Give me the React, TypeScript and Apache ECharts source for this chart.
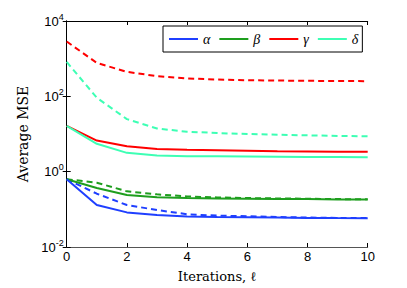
import React, { useEffect, useRef } from "react";
import * as echarts from "echarts";

const iterations = [0, 1, 2, 3, 4, 5, 6, 7, 8, 9, 10];
const legendNames = ["α", "β", "γ", "δ"];
const colors = ["#1f3fff", "#1e9e1e", "#ff0000", "#3dffb4"];

const alphaSolid = [0.63, 0.13, 0.083, 0.071, 0.065, 0.0628, 0.0616, 0.0604, 0.0592, 0.0585, 0.058];
const alphaDashed = [0.63, 0.26, 0.13, 0.096, 0.074, 0.068, 0.0655, 0.0628, 0.0604, 0.0592, 0.059];
const betaSolid = [0.63, 0.37, 0.24, 0.21, 0.2, 0.195, 0.191, 0.187, 0.187, 0.183, 0.183];
const betaDashed = [0.63, 0.51, 0.3, 0.25, 0.22, 0.207, 0.199, 0.195, 0.191, 0.187, 0.185];
const gammaSolid = [16.5, 6.7, 4.7, 4.0, 3.8, 3.7, 3.6, 3.5, 3.45, 3.4, 3.4];
const gammaDashed = [2850, 770, 447, 343, 298, 280, 268, 263, 258, 255, 253];
const deltaSolid = [16.5, 5.5, 3.16, 2.7, 2.58, 2.55, 2.52, 2.49, 2.46, 2.44, 2.43];
const deltaDashed = [818, 92, 24.8, 14, 11.5, 10.6, 10, 9.6, 9.2, 8.9, 8.7];

const solidSets = [alphaSolid, betaSolid, gammaSolid, deltaSolid];
const dashedSets = [alphaDashed, betaDashed, gammaDashed, deltaDashed];

const SERIF = "Liberation Serif";
const WSERIF = "DejaVu Serif";
const SANS = "Liberation Sans";

export default function App() {
  const ref = useRef<HTMLDivElement>(null);
  useEffect(() => {
    if (!ref.current) return;
    const chart = echarts.init(ref.current, null, { renderer: "svg" });
    const series: any[] = [];
    const order = [2, 3, 1, 0];
    order.forEach((i) => {
      series.push({
        name: legendNames[i] + "_d",
        type: "line",
        data: iterations.map((x, k) => [x, dashedSets[i][k]]),
        showSymbol: false,
        symbol: "none",
        lineStyle: { color: colors[i], width: 2, type: [6, 4] },
        itemStyle: { color: colors[i] },
        z: 2,
      });
    });
    order.forEach((i) => {
      series.push({
        name: legendNames[i],
        type: "line",
        data: iterations.map((x, k) => [x, solidSets[i][k]]),
        showSymbol: false,
        symbol: "none",
        lineStyle: { color: colors[i], width: 2 },
        itemStyle: { color: colors[i] },
        z: 3,
      });
    });
    const tickStyle = { show: true, inside: true, length: 4, lineStyle: { color: "#000", width: 1 } };
    chart.setOption({
      animation: false,
      backgroundColor: "#fff",
      textStyle: { fontFamily: SERIF },
      grid: { left: 66.7, right: 39.3, top: 21, bottom: 39, containLabel: false },
      legend: {
        data: legendNames,
        left: 163,
        top: 26,
        icon: "rect",
        itemWidth: 29,
        itemHeight: 2,
        itemGap: 9,
        padding: [6, 4, 6, 6],
        borderColor: "#000",
        borderWidth: 1,
        backgroundColor: "#fff",
        textStyle: { fontFamily: SERIF, fontStyle: "italic", fontSize: 14, color: "#000", lineHeight: 14 },
      },
      xAxis: [
        {
          type: "value",
          min: 0,
          max: 10,
          interval: 2,
          name: "Iterations, ℓ",
          nameLocation: "middle",
          nameGap: 23,
          nameTextStyle: { fontFamily: WSERIF, fontSize: 13, color: "#000" },
          axisLine: { show: true, lineStyle: { color: "#555", width: 1 } },
          axisTick: tickStyle,
          axisLabel: { fontFamily: SANS, fontSize: 13, color: "#000", margin: 3 },
          splitLine: { show: false },
        },
        {
          type: "value",
          position: "top",
          min: 0,
          max: 10,
          interval: 2,
          axisLine: { show: true, lineStyle: { color: "#000", width: 1 } },
          axisTick: tickStyle,
          axisLabel: { show: false },
          splitLine: { show: false },
        },
      ],
      yAxis: [
        {
          type: "log",
          logBase: 100,
          min: 0.01,
          max: 10000,
          name: "Average MSE",
          nameLocation: "middle",
          nameGap: 33,
          nameTextStyle: { fontFamily: WSERIF, fontSize: 14, color: "#000" },
          axisLine: { show: true, lineStyle: { color: "#000", width: 1 } },
          axisTick: tickStyle,
          minorTick: { show: false },
          axisLabel: {
            margin: 3,
            formatter: (v: number) => "{b|10}{s|" + Math.round(Math.log10(v)) + "}",
            rich: {
              b: { fontFamily: SANS, fontSize: 13, color: "#000" },
              s: { fontFamily: SANS, fontSize: 9, color: "#000", verticalAlign: "top", padding: [0, 0, 9, 0] },
            },
            fontFamily: SANS,
            fontSize: 13,
            color: "#000",
          },
          splitLine: { show: false },
        },
        {
          type: "log",
          logBase: 100,
          min: 0.01,
          max: 10000,
          position: "right",
          axisLine: { show: true, lineStyle: { color: "#000", width: 1 } },
          axisTick: tickStyle,
          axisLabel: { show: false },
          splitLine: { show: false },
        },
      ],
      series,
    });
    return () => chart.dispose();
  }, []);
  return <div ref={ref} style={{ position: "absolute", left: 0, top: 0, width: 407, height: 288 }} />;
}
